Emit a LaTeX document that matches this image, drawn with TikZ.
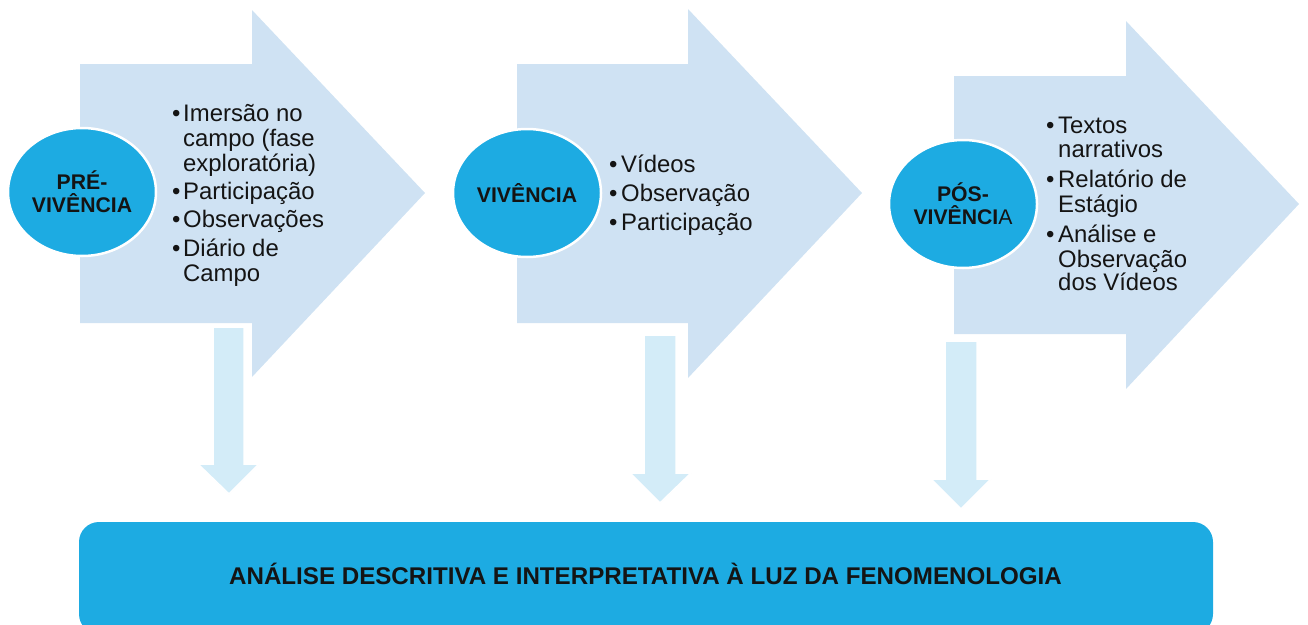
\documentclass[tikz,border=0pt]{standalone}
\usepackage{fontspec}
\setmainfont{Liberation Sans}
\usetikzlibrary{shapes.geometric}
\definecolor{arrowblue}{RGB}{207,226,243}
\definecolor{downblue}{RGB}{211,236,248}
\definecolor{circblue}{RGB}{29,171,226}
\definecolor{txt}{RGB}{20,20,20}
\tikzset{
  bigarrow/.style={fill=arrowblue, draw=none},
  downarrow/.style={fill=downblue, draw=white, line width=1.5pt, line join=miter},
  phase/.style={ellipse, fill=circblue, draw=white, line width=2.5pt, inner sep=0pt,
    minimum width=148pt, minimum height=128pt, align=center, text=txt,
    font=\fontsize{21.2}{23}\selectfont\bfseries},
  itemtext/.style={anchor=base west, inner sep=0pt, text=txt, font=\fontsize{23.9}{25}\selectfont},
  bul/.style={anchor=base west, inner sep=0pt, text=txt, font=\fontsize{23.9}{25}\selectfont},
  barbox/.style={fill=circblue, draw=none, rounded corners=20pt},
  bartext/.style={anchor=base, inner sep=0pt, text=txt, font=\fontsize{24.15}{26}\selectfont\bfseries}
}
\begin{document}
\begin{tikzpicture}[x=1pt,y=-1pt]
\useasboundingbox (0,0) rectangle (1308,624);
\clip (0,0) rectangle (1308,624);
% big arrows
\path[bigarrow] (80,64) -- (252,64) -- (252,10) -- (425,193) -- (252,377) -- (252,323) -- (80,323) -- cycle;
\path[bigarrow] (517,64) -- (688,64) -- (688,9) -- (862,193) -- (688,378) -- (688,323) -- (517,323) -- cycle;
\path[bigarrow] (954,76) -- (1126,76) -- (1126,21) -- (1299,204) -- (1126,389) -- (1126,334) -- (954,334) -- cycle;
% down arrows
\path[downarrow] (213,327) -- (244,327) -- (244,464) -- (259,464) -- (229,494) -- (198,464) -- (213,464) -- cycle;
\path[downarrow] (644,335) -- (676,335) -- (676,473) -- (691,473) -- (660,503) -- (630,473) -- (644,473) -- cycle;
\path[downarrow] (945,341) -- (977,341) -- (977,479) -- (991,479) -- (961,509) -- (931,479) -- (945,479) -- cycle;
% circles
\node[phase] (pre) at (82,192) {PRÉ-\\VIVÊNCIA};
\node[phase] (viv) at (527,193) {VIVÊNCIA};
\node[phase] (pos) at (963,204) {PÓS-\\VIVÊNCI\mdseries A};
% block 1
\node[bul] (b1a) at (172,121) {\textbullet};
\node[itemtext] (t1a) at (183,121) {Imersão no};
\node[itemtext] (t1b) at (183,146) {campo (fase};
\node[itemtext] (t1c) at (183,171) {exploratória)};
\node[bul] (b1b) at (172,199) {\textbullet};
\node[itemtext] (t1d) at (183,199) {Participação};
\node[bul] (b1c) at (172,227) {\textbullet};
\node[itemtext] (t1e) at (183,227) {Observações};
\node[bul] (b1d) at (172,256) {\textbullet};
\node[itemtext] (t1f) at (183,256) {Diário de};
\node[itemtext] (t1g) at (183,281) {Campo};
% block 2
\node[bul] (b2a) at (609,172) {\textbullet};
\node[itemtext] (t2a) at (621,172) {Vídeos};
\node[bul] (b2b) at (609,201) {\textbullet};
\node[itemtext] (t2b) at (621,201) {Observação};
\node[bul] (b2c) at (609,230) {\textbullet};
\node[itemtext] (t2c) at (621,230) {Participação};
% block 3
\node[bul] (b3a) at (1046,133) {\textbullet};
\node[itemtext] (t3a) at (1058,133) {Textos};
\node[itemtext] (t3b) at (1058,157) {narrativos};
\node[bul] (b3b) at (1046,187) {\textbullet};
\node[itemtext] (t3c) at (1058,187) {Relatório de};
\node[itemtext] (t3d) at (1058,212) {Estágio};
\node[bul] (b3c) at (1046,242) {\textbullet};
\node[itemtext] (t3e) at (1058,242) {Análise e};
\node[itemtext] (t3f) at (1058,267) {Observação};
\node[itemtext] (t3g) at (1058,290) {dos Vídeos};
% bottom bar
\path[barbox] (79,522) rectangle (1213,634);
\node[bartext] (bar) at (645.5,584) {ANÁLISE DESCRITIVA E INTERPRETATIVA À LUZ DA FENOMENOLOGIA};
\end{tikzpicture}
\end{document}
